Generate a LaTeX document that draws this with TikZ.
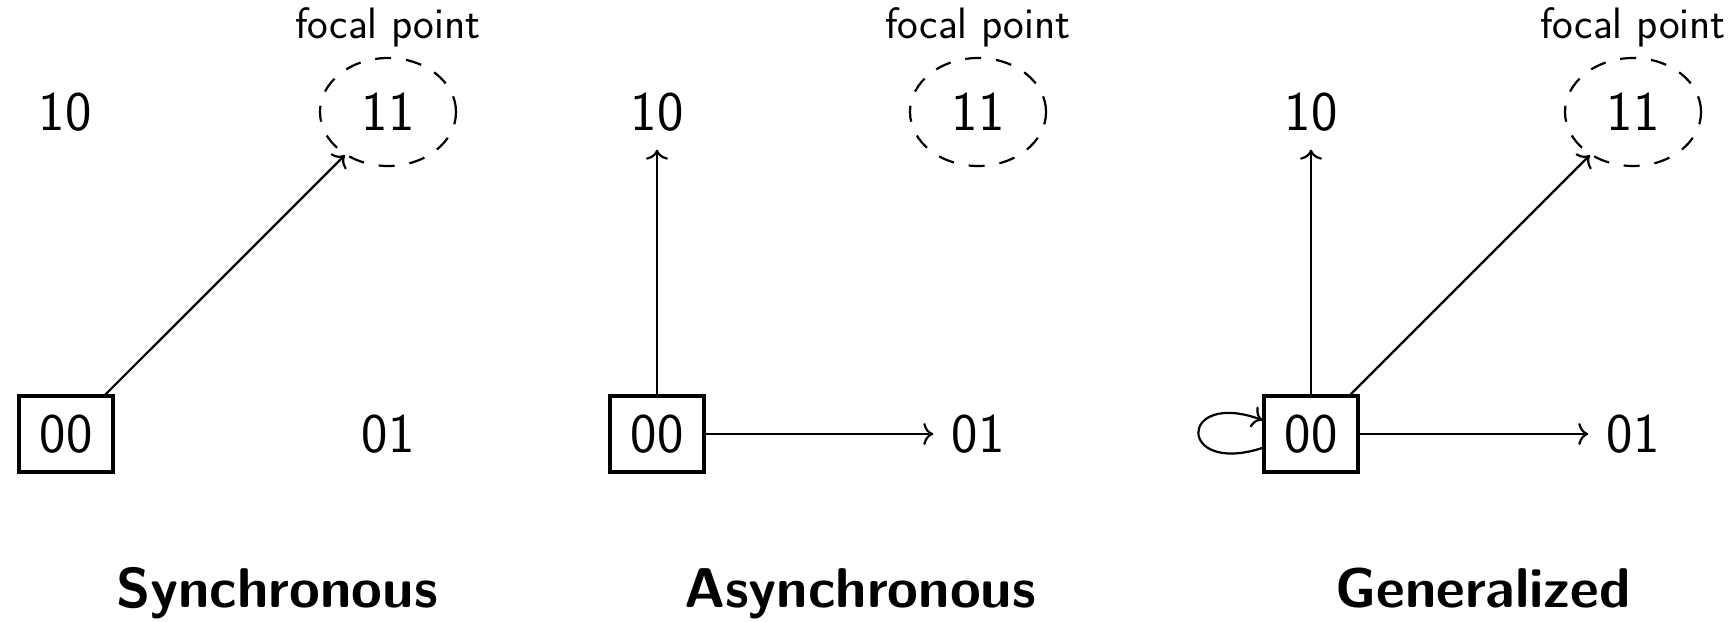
\documentclass[tikz,border=0pt]{standalone}
\usetikzlibrary{arrows.meta,shapes.geometric}
\begin{document}
\begin{tikzpicture}[x=0.5pt,y=-0.5pt,
  state/.style={font=\fontsize{28}{34}\selectfont\sffamily, inner sep=9pt},
  initbox/.style={state, draw, line width=1.6pt, minimum width=47pt, minimum height=38pt},
  focal/.style={state, draw, ellipse, line width=1.1pt, dash pattern=on 8pt off 7.5pt, minimum width=68pt, minimum height=54pt},
  fplabel/.style={font=\fontsize{22}{26}\selectfont\sffamily, anchor=base, inner sep=0pt},
  title/.style={font=\fontsize{28}{34}\selectfont\sffamily\bfseries, anchor=base, inner sep=0pt},
  arr/.style={line width=1.1pt, -{To[length=5pt,width=11pt]}}]
\useasboundingbox (0,0) rectangle (1733,621);
% Panel A
\node[initbox] (a00) at (66,434) {00};
\node[state] (a10) at (65,112) {10};
\node[focal] (a11) at (388,112) {11};
\node[state] (a01) at (388,434) {01};
\node[fplabel] (afp) at (388,38) {focal point};
\draw[arr] (a00) -- (a11);
% Panel B
\node[initbox] (b00) at (657,434) {00};
\node[state] (b10) at (657,112) {10};
\node[focal] (b11) at (978,112) {11};
\node[state] (b01) at (978,434) {01};
\node[fplabel] (bfp) at (978,38) {focal point};
\draw[arr] (b00) -- (b10);
\draw[arr] (b00) -- (b01);
% Panel C
\node[initbox] (c00) at (1311,434) {00};
\node[state] (c10) at (1311,112) {10};
\node[focal] (c11) at (1633,112) {11};
\node[state] (c01) at (1633,434) {01};
\node[fplabel] (cfp) at (1633,38) {focal point};
\draw[arr] (c00) -- (c10);
\draw[arr] (c00) -- (c11);
\draw[arr] (c00) -- (c01);
\draw[arr] (c00.196) .. controls +(198:45pt) and +(160:45pt) .. (c00.164);
% Titles
\node[title] (ta) at (277,607) {Synchronous};
\node[title] (tb) at (860,607) {Asynchronous};
\node[title] (tc) at (1483,607) {Generalized};
\end{tikzpicture}
\end{document}
